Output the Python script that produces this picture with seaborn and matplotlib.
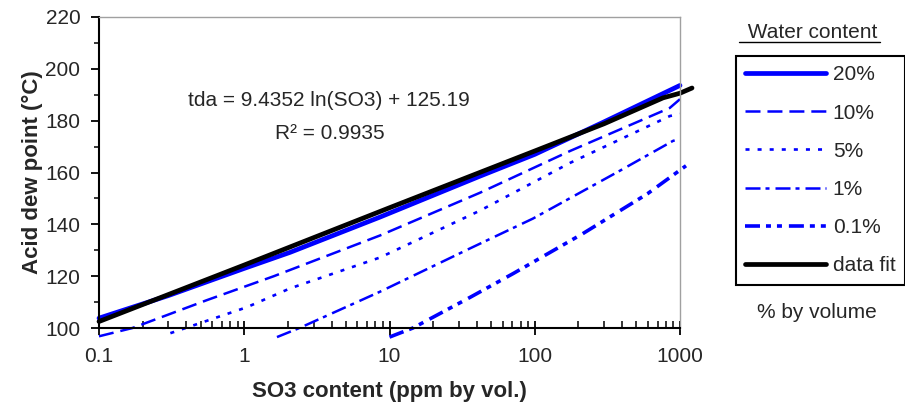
"""
Acid dew point vs SO3 content for several water contents, with log data fit.
"""

# Importing required packages
import numpy as np
import pandas as pd
import seaborn as sns
import matplotlib.pyplot as plt
from matplotlib.lines import Line2D

# Data (SO3 ppm, dew point degC)
so3_20 = [0.1, 0.3, 1, 2.07, 8.6, 42, 100, 294, 1000]
tda_20 = [103.8, 112.5, 123.0, 129.2, 142.8, 158.6, 167.0, 179.3, 193.6]

so3_10 = [0.1, 0.17, 0.55, 1.6, 8.6, 42, 175, 850, 1000]
tda_10 = [96.8, 100.0, 110.7, 120.0, 135.7, 152.2, 168.3, 184.9, 188.3]

so3_5 = [0.31, 1.04, 2.07, 8.6, 42, 175, 853, 1000]
tda_5 = [98.0, 108.0, 115.3, 127.2, 145.3, 163.7, 181.8, 182.6]

so3_1 = [1.68, 2.4, 8.6, 35.8, 97, 386, 895, 1000]
tda_1 = [96.5, 100.0, 114.0, 130.7, 142.2, 160.7, 172.2, 173.0]

so3_01 = [10, 14.5, 35.8, 71, 214, 597, 1100]
tda_01 = [96.5, 100.0, 111.8, 121.0, 136.4, 151.8, 162.6]

so3_fit = [0.1, 1, 10, 100, 300, 764, 1000, 1210]
tda_fit = [102.5, 124.3, 146.4, 168.3, 178.8, 188.8, 190.6, 192.6]

labels = ["20%", "10%", "5%", "1%", "0.1%", "data fit"]
xs = [so3_20, so3_10, so3_5, so3_1, so3_01, so3_fit]
ys = [tda_20, tda_10, tda_5, tda_1, tda_01, tda_fit]

y_ticks = [100, 120, 140, 160, 180, 200, 220]
x_ticks = [0.1, 1, 10, 100, 1000]
x_ticklabels = ["0.1", "1", "10", "100", "1000"]

# Styles: (color, linewidth pt, linestyle with dashes in points)
styles = {
    "20%": ("#0000ff", 3.4, "-"),
    "10%": ("#0000ff", 1.8, (0, (10.8, 5.0))),
    "5%": ("#0000ff", 1.9, (0, (2.9, 5.8))),
    "1%": ("#0000ff", 1.8, (0, (10.8, 3.6, 2.9, 4.3))),
    "0.1%": ("#0000ff", 2.6, (0, (10.8, 4.3, 3.6, 4.3, 3.6, 5.0))),
    "data fit": ("black", 3.4, "-"),
}

sns.set_style("ticks")
plt.rcParams["font.family"] = ["Liberation Sans", "DejaVu Sans"]
plt.rcParams["lines.scale_dashes"] = False

fig = plt.figure(figsize=(9.05, 4.19), dpi=100)
ax = fig.add_axes([99 / 905, 91 / 419, 581 / 905, 311 / 419])
ax.set_xscale("log")

# Plot every series
for lab, x, y in zip(labels, xs, ys):
    df = pd.DataFrame({"so3": x, "tda": y})
    col, lw, ls = styles[lab]
    sns.lineplot(data=df, x="so3", y="tda", ax=ax, color=col, lw=lw,
                 linestyle=ls, estimator=None, sort=False, label=lab,
                 clip_on=False, solid_capstyle="round")

ax.set_xlim(0.1, 1000)
ax.set_ylim(100, 220)
ax.set_yticks(y_ticks)
ax.set_yticks([110, 130, 150, 170, 190, 210], minor=True)
ax.set_xticks(x_ticks)
ax.set_xticklabels(x_ticklabels)

# Axes frame
for s in ["left", "bottom"]:
    ax.spines[s].set_color("black")
    ax.spines[s].set_linewidth(1.5)
for s in ["top", "right"]:
    ax.spines[s].set_visible(True)
    ax.spines[s].set_color("#a0a0a0")
    ax.spines[s].set_linewidth(1.0)

ax.tick_params(axis="x", which="major", direction="inout", length=10, width=1.3,
               pad=9, labelsize=15, color="black")
ax.tick_params(axis="x", which="minor", direction="in", length=5, width=1.1, color="black")
ax.tick_params(axis="y", which="major", direction="out", length=5.5, width=1.3,
               pad=8, labelsize=15, color="black")
ax.tick_params(axis="y", which="minor", direction="out", length=3.5, width=1.1, color="black")

ax.set_xlabel("SO3 content (ppm by vol.)", fontsize=16, fontweight="bold")
ax.set_ylabel("Acid dew point (°C)", fontsize=16, fontweight="bold")
ax.xaxis.set_label_coords(0.5, -0.17)
ax.yaxis.set_label_coords(-0.097, 0.5)

# Fit equation
ax.text(0.396, 0.730, "tda = 9.4352 ln(SO3) + 125.19", transform=ax.transAxes,
        ha="center", va="center", fontsize=15)
ax.text(0.398, 0.627, "R² = 0.9935", transform=ax.transAxes,
        ha="center", va="center", fontsize=15)

# Legend
handles, labs = ax.get_legend_handles_labels()
leg = ax.legend(handles, labs, loc="upper left", bbox_to_anchor=(736 / 905, 1 - 56 / 419),
                bbox_transform=fig.transFigure, frameon=True, fancybox=False,
                edgecolor="black", framealpha=1, fontsize=15, borderpad=0.45,
                handlelength=3.85, handletextpad=0.34, labelspacing=0.92,
                borderaxespad=0)
leg.get_frame().set_linewidth(1.5)

fig.text(810 / 905, 1 - 33 / 419, " Water content", ha="center", va="center", fontsize=15)
fig.add_artist(Line2D([739 / 905, 880 / 905], [1 - 42 / 419, 1 - 42 / 419],
                      color="black", lw=1.0, transform=fig.transFigure))
fig.text(817 / 905, 1 - 312 / 419, "% by volume", ha="center", va="center", fontsize=15)

fig.savefig("out.png", dpi=100)
